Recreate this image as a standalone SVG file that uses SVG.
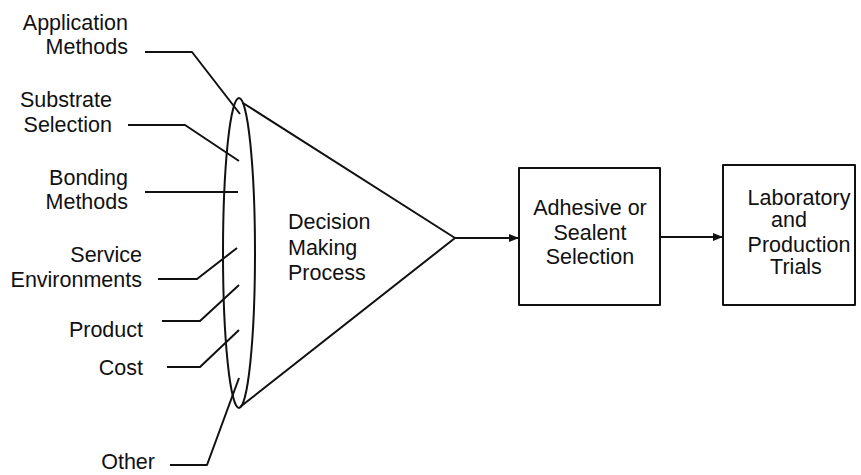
<svg xmlns="http://www.w3.org/2000/svg" width="861" height="475" viewBox="0 0 861 475">
<style>
text{font-family:"Liberation Sans",Arial,sans-serif;font-size:21.5px;fill:#111}
.r{text-anchor:end}
.c{text-anchor:middle}
.ln{fill:none;stroke:#111;stroke-width:2;stroke-linejoin:round}
</style>
<defs>
<marker id="ah" markerWidth="10" markerHeight="8" refX="9" refY="4" orient="auto" markerUnits="userSpaceOnUse">
<path d="M0,0 L10,4 L0,8 Z" fill="#111"/>
</marker>
</defs>
<rect width="861" height="475" fill="#fff"/>
<g id="labels">
<text class="r" x="128" y="30">Application</text>
<text class="r" x="128" y="54">Methods</text>
<text class="r" x="112" y="107">Substrate</text>
<text class="r" x="112" y="132">Selection</text>
<text class="r" x="128" y="185">Bonding</text>
<text class="r" x="128" y="209">Methods</text>
<text class="r" x="142" y="262">Service</text>
<text class="r" x="142" y="287">Environments</text>
<text class="r" x="143" y="337">Product</text>
<text class="r" x="143" y="375">Cost</text>
<text class="r" x="155" y="469">Other</text>
</g>
<g id="decision">
<ellipse class="ln" cx="239" cy="253" rx="16" ry="155"/>
<path class="ln" d="M243,103 L455,238 L240,407"/>
<text x="288" y="229">Decision</text>
<text x="288" y="255">Making</text>
<text x="288" y="280">Process</text>
</g>
<g id="selection">
<rect class="ln" x="519" y="168" width="141" height="137"/>
<text class="c" x="590" y="215">Adhesive or</text>
<text class="c" x="590" y="240">Sealent</text>
<text class="c" x="590" y="264">Selection</text>
</g>
<g id="trials">
<rect class="ln" x="723" y="165" width="132" height="140"/>
<text class="c" x="799" y="205">Laboratory</text>
<text class="c" x="789" y="227">and</text>
<text class="c" x="799" y="252">Production</text>
<text class="c" x="796" y="274">Trials</text>
</g>
<g id="connectors">
<path class="ln" d="M145,52 L192,52 L240,114"/>
<path class="ln" d="M128,125 L185,125 L239,161"/>
<path class="ln" d="M145,192 L238,192"/>
<path class="ln" d="M158,279 L197,279 L237,248"/>
<path class="ln" d="M162,321 L200,321 L239,285"/>
<path class="ln" d="M167,367 L200,367 L239,330"/>
<path class="ln" d="M170,465 L207,465 L239,378"/>
<path class="ln" d="M455,238 L518,238" marker-end="url(#ah)"/>
<path class="ln" d="M660,237 L722,237" marker-end="url(#ah)"/>
</g>
</svg>
